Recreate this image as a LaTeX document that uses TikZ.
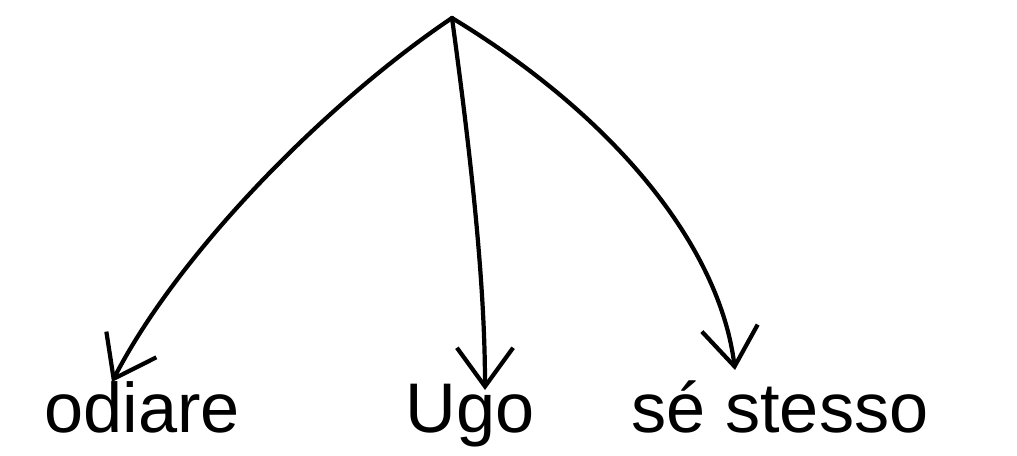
\documentclass[tikz,border=0pt]{standalone}
\usepackage{fontspec}
\setmainfont{Liberation Sans}
\usetikzlibrary{arrows.meta}
\begin{document}
\begin{tikzpicture}[x=0.02cm,y=-0.02cm,
  edge/.style={line width=2.4pt,line cap=round,-{Straight Barb[length=22pt,width=32pt,line width=2.4pt]}},
  word/.style={font=\fontsize{40}{44}\selectfont,inner sep=0pt,anchor=base}]
\useasboundingbox (0,0) rectangle (1017,456);
\coordinate (root) at (452,18);
\node[word] (odiare) at (142,432) {odiare};
\node[word] (ugo) at (470,432) {Ugo};
\node[word] (se) at (780,432) {sé stesso};
\coordinate (t1) at (112,382);
\coordinate (t2) at (485,390);
\coordinate (t3) at (735,370);
\draw[edge] (root) .. controls (330,100) and (180,250) .. (t1);
\draw[edge] (root) .. controls (470,150) and (485,280) .. (t2);
\draw[edge] (root) .. controls (620,120) and (720,250) .. (t3);
\end{tikzpicture}
\end{document}
